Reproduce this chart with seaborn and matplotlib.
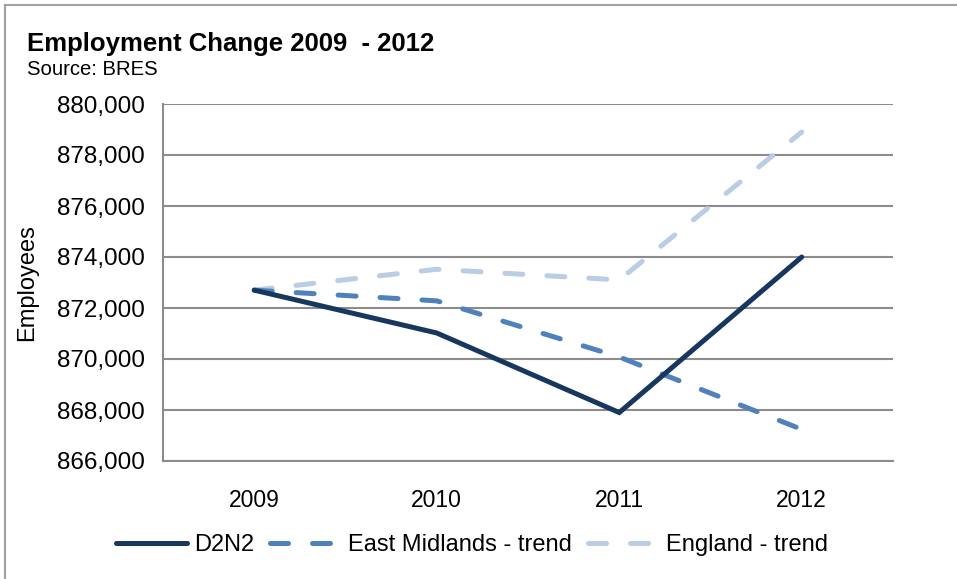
import matplotlib
matplotlib.use("Agg")
import matplotlib.pyplot as plt
import matplotlib.ticker as mticker
from matplotlib.patches import Rectangle
import pandas as pd
import seaborn as sns

# Employment figures (BRES)
years = ["2009", "2010", "2011", "2012"]
d2n2 = [872700, 871020, 867900, 874000]
east_midlands_trend = [872700, 872280, 870080, 867240]
england_trend = [872700, 873520, 873100, 878900]
series_names = ["D2N2", "East Midlands - trend", "England - trend"]
y_ticks = [866000, 868000, 870000, 872000, 874000, 876000, 878000, 880000]

colors = {"D2N2": "#17375E",
          "East Midlands - trend": "#4F81BD",
          "England - trend": "#B9CDE5"}

rows = []
for name, vals in zip(series_names, [d2n2, east_midlands_trend, england_trend]):
    for i, (yr, v) in enumerate(zip(years, vals)):
        rows.append({"pos": i, "year": yr, "Employees": v, "series": name})
df = pd.DataFrame(rows)

sns.set_theme(style="white")
plt.rcParams["font.family"] = ["Liberation Sans", "DejaVu Sans"]
plt.rcParams["text.color"] = "black"
plt.rcParams["axes.labelcolor"] = "black"

fig = plt.figure(figsize=(9.57, 5.79), dpi=100)
ax = fig.add_axes([163 / 957, 1 - 461 / 579, (893 - 163) / 957, (461 - 104) / 579])

lw = 3.6
sns.lineplot(data=df, x="pos", y="Employees", hue="series", style="series",
             hue_order=series_names, style_order=series_names,
             palette=colors,
             dashes={"D2N2": "", "East Midlands - trend": (3.6, 4.8),
                     "England - trend": (3.6, 4.8)},
             linewidth=lw, ax=ax, legend=False, sort=False)

handles = []
for line, name in zip(ax.get_lines(), series_names):
    line.set_dash_capstyle("round")
    line.set_solid_capstyle("round")
    line.set_solid_joinstyle("miter")
    line.set_label(name)
    handles.append(line)
# lighter trend lines sit beneath the dark series
for line in handles:
    line.set_zorder({"D2N2": 4, "East Midlands - trend": 3, "England - trend": 2}[line.get_label()])

grid_col = "#8C8C8C"
ax.set_xlim(-0.5, 3.5)
ax.set_ylim(866000, 880000)
ax.set_yticks(y_ticks)
ax.yaxis.set_major_formatter(mticker.FuncFormatter(lambda v, p: f"{int(v):,}"))
ax.set_xticks(range(len(years)))
ax.set_xticklabels(years)
ax.set_xticks([-0.5, 0.5, 1.5, 2.5, 3.5], minor=True)
ax.tick_params(axis="x", which="major", length=0, pad=20, labelsize=16.5, labelcolor="black")
ax.tick_params(axis="x", which="minor", length=6, width=1.5, color=grid_col, direction="out")
ax.tick_params(axis="y", length=6, width=1.5, color=grid_col, direction="out",
               labelsize=17.5, pad=7, labelcolor="black")
ax.grid(axis="y", color=grid_col, linewidth=1.5)
ax.set_axisbelow(True)
for side in ["top", "right"]:
    ax.spines[side].set_visible(False)
for side in ["left", "bottom"]:
    ax.spines[side].set_color(grid_col)
    ax.spines[side].set_linewidth(1.5)
ax.set_xlabel("")
ax.set_ylabel("Employees", fontsize=17, color="black")
ax.yaxis.set_label_coords(-125 / 730, 0.5)

fig.text(27 / 957, 1 - 51 / 579, "Employment Change 2009  - 2012",
         fontsize=18.5, fontweight="bold", ha="left", va="baseline", color="black")
fig.text(27 / 957, 1 - 75 / 579, "Source: BRES",
         fontsize=14.6, ha="left", va="baseline", color="black")

fig.legend(handles=handles, labels=series_names, loc="center",
           bbox_to_anchor=(472 / 957, 1 - 545 / 579), ncol=3, frameon=False,
           fontsize=17, handlelength=3.0, columnspacing=0.68, handletextpad=0.3,
           labelcolor="black")

# outer chart frame
fig.patches.append(Rectangle((5 / 957, -0.1), 1.2, 1 - 5 / 579 + 0.1,
                             transform=fig.transFigure, fill=False,
                             edgecolor="#A0A0A0", linewidth=1.5))

fig.savefig("out.png", dpi=100)
